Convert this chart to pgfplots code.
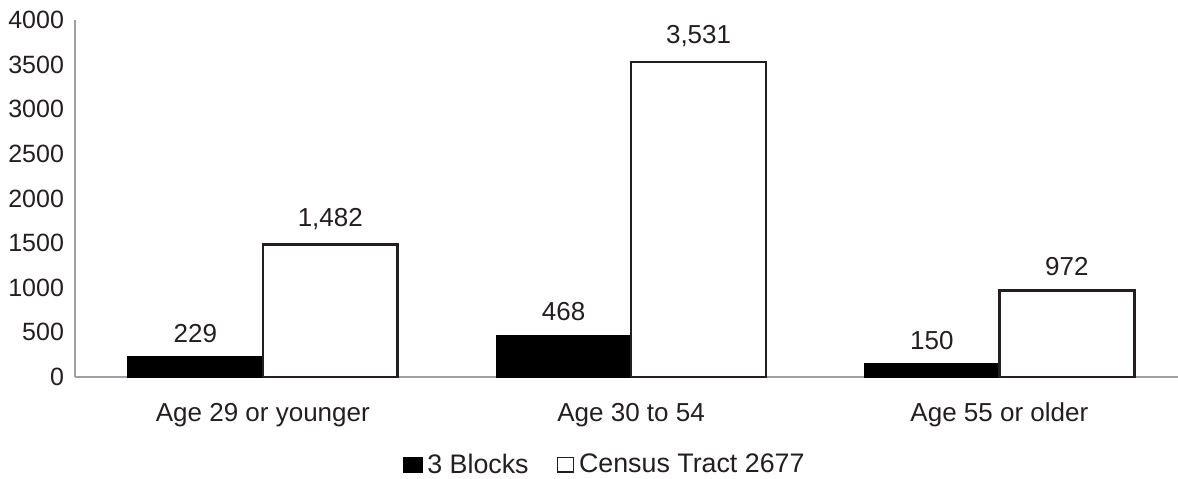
\documentclass[border=0pt]{standalone}
\usepackage{fontspec}
\setmainfont{Liberation Sans}
\usepackage{pgfplots}
\pgfplotsset{compat=1.18}

\definecolor{axisgray}{HTML}{A0A0A4}
\definecolor{txt}{HTML}{231F20}

\begin{document}
\begin{tikzpicture}
\begin{axis}[
    scale only axis,
    width=551.5pt, height=178.5pt,
    ybar=0pt,
    bar width=0.3665,
    ymin=0, ymax=4000,
    ytick={0,500,...,4000},
    xmin=-0.51, xmax=2.485,
    xtick=data,
    xticklabels={Age 29 or younger, Age 30 to 54, Age 55 or older},
    axis x line*=bottom,
    axis y line*=left,
    axis line style={axisgray, line width=1pt},
    major tick length=0pt,
    tick label style={font=\fontsize{12.5}{14}\selectfont, text=txt},
    xticklabel style={font=\fontsize{13}{15}\selectfont, yshift=-9.5pt},
    yticklabel style={xshift=-2pt},
    /pgf/number format/assume math mode=true,
    yticklabel={\pgfmathprintnumber[1000 sep={}]{\tick}},
    nodes near coords,
    nodes near coords style={font=\fontsize{13}{15}\selectfont, text=txt, yshift=3.5pt,
        /pgf/number format/1000 sep={,}},
    clip=false,
    legend columns=2,
    legend style={at={(0.481,-0.246)}, anchor=center, draw=none,
        font=\fontsize{13.4}{15}\selectfont, text=txt,
        /tikz/every odd column/.append style={column sep=0.5pt},
        /tikz/every even column/.append style={column sep=12pt}},
    legend image code/.code={\fill[black] (0pt,-3.7pt) rectangle (9.5pt,3.8pt);},
]
\addplot[fill=black, draw=black, line width=0.4pt] coordinates {(0,229) (1,468) (2,150)};
\addplot[fill=white, draw=txt, line width=1.3pt,
    legend image code/.code={\draw[fill=white, draw=txt, line width=0.7pt] (0.5pt,-3.6pt) rectangle (8.5pt,3.7pt);}]
    coordinates {(0,1482) (1,3531) (2,972)};
\legend{3 Blocks, Census Tract 2677}
\end{axis}
\pgfresetboundingbox
\path[use as bounding box] (-37.5pt,-50.5pt) rectangle (551.5pt,188.5pt);
\end{tikzpicture}
\end{document}
